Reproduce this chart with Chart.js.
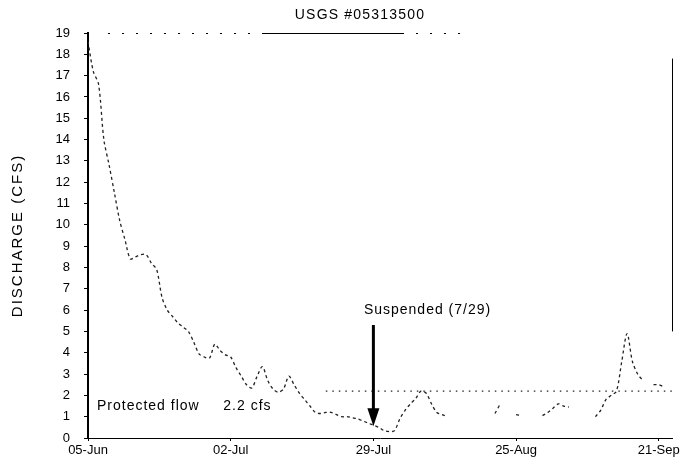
<!DOCTYPE html>
<html>
<head>
<meta charset="utf-8">
<script src="https://cdn.jsdelivr.net/npm/chart.js@4"></script>
<style>
  body { margin: 0; background: #fff; }
  #wrap { width: 687px; height: 465px; }
</style>
</head>
<body>
<div id="wrap"><canvas id="flowChart" width="687" height="465"></canvas></div>
<script>
// Daily discharge (cfs), day 0 = 05-Jun; null where the trace is missing
const discharge = [
  18.6, 17.2, 16.6, 14.0, 12.8, 11.5, 10.2, 9.3, 8.4, 8.5,
  8.6, 8.6, 8.2, 7.9, 6.6, 6.0, 5.7, 5.4, 5.2, 5.0,
  4.5, 3.95, 3.8, 3.75, 4.4, 4.1, 3.9, 3.8, 3.3, 2.9,
  2.5, 2.35, 2.9, 3.35, 2.7, 2.3, 2.15, 2.3, 2.9, 2.5,
  2.1, 1.8, 1.5, 1.2, 1.15, 1.2, 1.2, 1.1, 1.0, 1.0,
  0.95, 0.9, 0.8, 0.7, 0.6, 0.5, 0.35, 0.3, 0.35, 0.9,
  1.3, 1.6, 1.85, 2.2, 2.1, 1.6, 1.2, 1.1, 1.0, null,
  null, null, null, null, null, null, null, 1.15, 1.6, null,
  null, 1.1, 1.05, null, null, null, 1.05, 1.2, 1.4, 1.6,
  1.5, 1.45, null, null, null, null, 1.0, 1.3, 1.8, 2.0,
  2.2, 3.6, 4.9, 3.6, 3.0, 2.7, null, 2.5, 2.5, 2.4
];
const days = discharge.map((v, i) => i);

// Protected flow line
const protectedFlow = 2.2;
const protectedDays = [45, 110.5];

// x tick labels
const tickDays = [0, 27, 54, 81, 108];
const tickLabels = ["05-Jun", "02-Jul", "29-Jul", "25-Aug", "21-Sep"];

const suspendedDay = 54;
const FONT = "'Liberation Sans', Arial, sans-serif";

// titel, tekst en pijl
const notes = {
  id: 'notes',
  afterDraw(chart) {
    const ctx = chart.ctx;
    const x = chart.scales.x, y = chart.scales.y;
    const area = chart.chartArea;
    ctx.save();

    // frame: top sparse dots with a solid stretch, right solid
    ctx.strokeStyle = '#000';
    ctx.lineWidth = 1;
    ctx.setLineDash([2, 12]);
    ctx.beginPath();
    ctx.moveTo(area.left + 20, area.top + 0.5);
    ctx.lineTo(460, area.top + 0.5);
    ctx.stroke();
    ctx.setLineDash([]);
    ctx.beginPath();
    ctx.moveTo(262, area.top + 0.5);
    ctx.lineTo(402, area.top + 0.5);
    ctx.moveTo(area.right + 0.5, y.getPixelForValue(17.8));
    ctx.lineTo(area.right + 0.5, y.getPixelForValue(5));
    ctx.stroke();

    ctx.fillStyle = '#000';
    ctx.textBaseline = 'middle';
    ctx.letterSpacing = '1.2px';
    ctx.font = '14px ' + FONT;
    ctx.textAlign = 'center';
    ctx.fillText('USGS #05313500', 360, 15);

    ctx.letterSpacing = '1px';
    ctx.textAlign = 'left';
    ctx.fillText('Protected flow', x.getPixelForValue(1.7), y.getPixelForValue(1.5));
    ctx.fillText('2.2 cfs', x.getPixelForValue(25.6), y.getPixelForValue(1.5));
    ctx.fillText('Suspended (7/29)', x.getPixelForValue(52.2), y.getPixelForValue(6.0));

    // y axis title
    ctx.save();
    ctx.translate(18, (area.top + area.bottom) / 2);
    ctx.rotate(-Math.PI / 2);
    ctx.textAlign = 'center';
    ctx.letterSpacing = '2px';
    ctx.font = '15px ' + FONT;
    ctx.fillText('DISCHARGE (CFS)', 0, 0);
    ctx.restore();

    // arrow
    const ax = x.getPixelForValue(suspendedDay);
    const top = y.getPixelForValue(5.3);
    const tip = y.getPixelForValue(0.55);
    ctx.lineWidth = 3;
    ctx.beginPath();
    ctx.moveTo(ax, top);
    ctx.lineTo(ax, tip - 14);
    ctx.stroke();
    ctx.beginPath();
    ctx.moveTo(ax - 6, tip - 18);
    ctx.lineTo(ax + 6, tip - 18);
    ctx.lineTo(ax, tip);
    ctx.closePath();
    ctx.fill();
    ctx.restore();
  }
};

new Chart(document.getElementById('flowChart'), {
  type: 'line',
  data: {
    datasets: [
      {
        label: 'Discharge',
        data: days.map((d, i) => ({ x: d, y: discharge[i] })),
        borderColor: '#222',
        borderWidth: 1.3,
        borderDash: [3, 3],
        pointRadius: 0,
        tension: 0.3,
        spanGaps: false
      },
      {
        label: 'Protected flow',
        data: protectedDays.map(d => ({ x: d, y: protectedFlow })),
        borderColor: '#222',
        borderWidth: 1.2,
        borderDash: [1.5, 5],
        pointRadius: 0
      }
    ]
  },
  options: {
    responsive: false,
    animation: false,
    layout: { padding: { top: 33, right: 15, left: 0, bottom: 0 } },
    plugins: { legend: { display: false }, tooltip: { enabled: false } },
    scales: {
      x: {
        type: 'linear',
        min: 0,
        max: 110.5,
        afterBuildTicks: axis => { axis.ticks = tickDays.map(v => ({ value: v })); },
        afterFit: s => { s.height = 27; },
        ticks: {
          autoSkip: false,
          maxRotation: 0,
          padding: 2,
          color: '#000',
          font: { family: FONT, size: 13 },
          callback: v => tickLabels[tickDays.indexOf(v)]
        },
        grid: { drawOnChartArea: false, tickLength: 3, color: '#000' },
        border: { color: '#000', width: 1, dash: [1, 2] }
      },
      y: {
        min: 0,
        max: 19,
        afterFit: s => { s.width = 88; },
        ticks: {
          stepSize: 1,
          padding: 14,
          color: '#000',
          font: { family: FONT, size: 13 }
        },
        grid: { drawOnChartArea: false, tickLength: 4, color: '#000' },
        border: { color: '#000', width: 2 }
      }
    }
  },
  plugins: [notes]
});
</script>
</body>
</html>
